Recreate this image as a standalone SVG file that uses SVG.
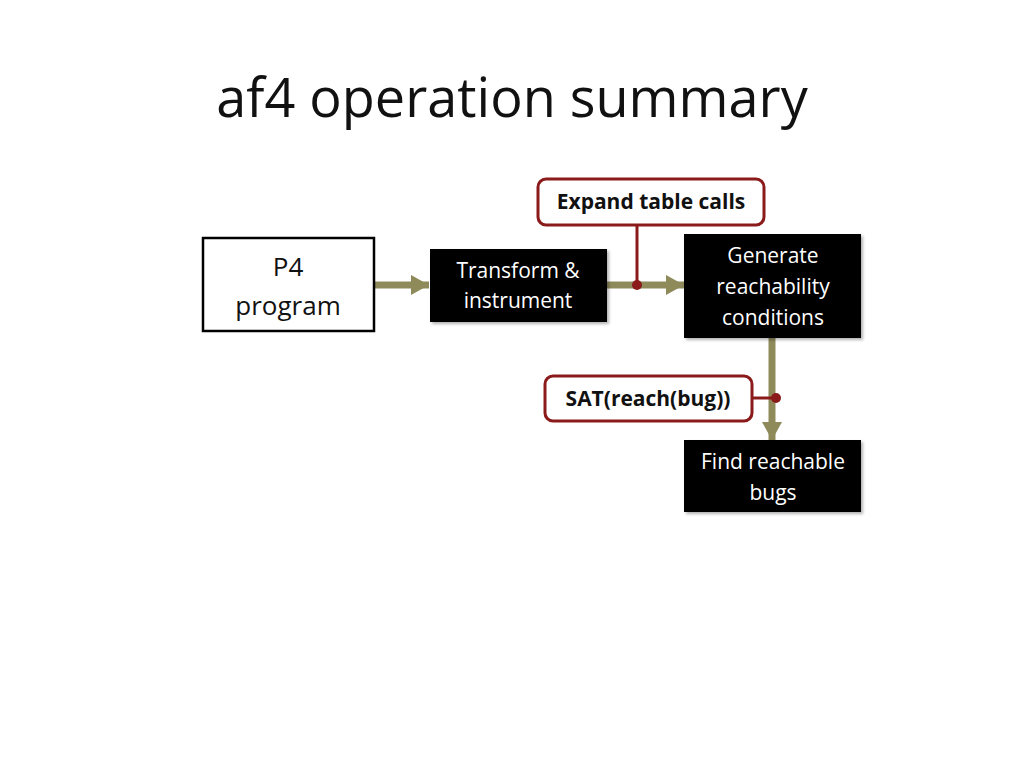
<svg xmlns="http://www.w3.org/2000/svg" width="1024" height="768" viewBox="0 0 1024 768">
<defs>
<filter id="sh" x="-10%" y="-10%" width="130%" height="130%"><feDropShadow dx="2" dy="2" stdDeviation="1.5" flood-color="#000" flood-opacity="0.3"/></filter>
<marker id="ah" markerUnits="userSpaceOnUse" markerWidth="20" markerHeight="20" refX="18" refY="10" orient="auto"><path d="M0,0 L18,10 L0,20 Z" fill="#8e8a5a"/></marker>
</defs>
<style>
.t{font-family:"Open Sans","Noto Sans",sans-serif;text-anchor:middle}
.w{fill:#fff;font-size:21px}
.b{font-weight:bold;font-size:21px;fill:#111}
.blk{fill:#000;filter:url(#sh)}
.arr{stroke:#8e8a5a;stroke-width:7;fill:none;marker-end:url(#ah)}
.red{stroke:#8b1a1a;stroke-width:3;fill:none}
.call{fill:#fff;stroke:#8b1a1a;stroke-width:3}
</style>
<rect width="1024" height="768" fill="#fff"/>
<text x="512" y="117" class="t" font-size="54" fill="#111">af4 operation summary</text>
<g id="connectors">
<line x1="374" y1="285" x2="429" y2="285" class="arr"/>
<line x1="607" y1="285" x2="684" y2="285" class="arr"/>
<line x1="772" y1="338" x2="772" y2="440" class="arr"/>
<line x1="637" y1="224" x2="637" y2="285" class="red"/>
<circle cx="637" cy="285" r="5" fill="#8b1a1a"/>
<line x1="751" y1="398" x2="776" y2="398" class="red"/>
<circle cx="776" cy="398" r="5" fill="#8b1a1a"/>
</g>
<g id="p4">
<rect x="203" y="238" width="171" height="93" fill="#fff" stroke="#000" stroke-width="2.5"/>
<text x="288" y="276" class="t" font-size="26" fill="#111">P4</text>
<text x="288" y="315" class="t" font-size="26" fill="#111">program</text>
</g>
<g id="transform">
<rect x="430" y="249" width="177" height="73" class="blk"/>
<text x="518" y="278" class="t w">Transform &amp;</text>
<text x="518" y="308" class="t w">instrument</text>
</g>
<g id="expand">
<rect x="538" y="179" width="226" height="46" rx="8" class="call"/>
<text x="651" y="209" class="t b">Expand table calls</text>
</g>
<g id="generate">
<rect x="684" y="234" width="177" height="104" class="blk"/>
<text x="773" y="263" class="t w">Generate</text>
<text x="773" y="294" class="t w">reachability</text>
<text x="773" y="325" class="t w">conditions</text>
</g>
<g id="sat">
<rect x="545" y="376" width="207" height="45" rx="8" class="call"/>
<text x="648" y="406" class="t b">SAT(reach(bug))</text>
</g>
<g id="find">
<rect x="684" y="440" width="177" height="72" class="blk"/>
<text x="773" y="469" class="t w">Find reachable</text>
<text x="773" y="500" class="t w">bugs</text>
</g>
</svg>
